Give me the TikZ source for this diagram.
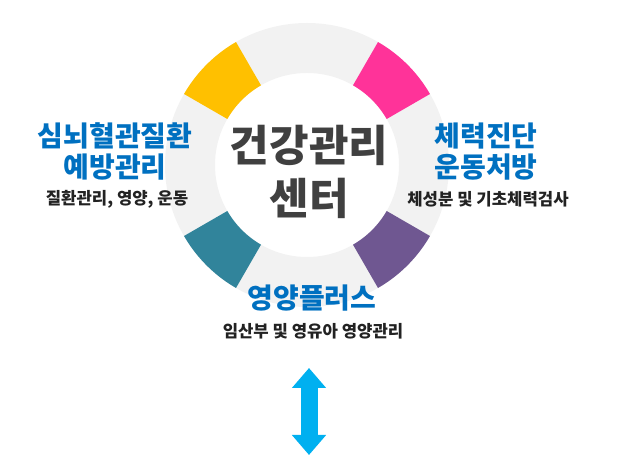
\documentclass[tikz,border=0pt]{standalone}
\usepackage{fontspec}
\setmainfont{Noto Sans CJK KR}
\usepackage{tikz}
\usetikzlibrary{arrows.meta, positioning}

\definecolor{ringgray}{HTML}{F2F2F2}
\definecolor{segyellow}{HTML}{FFC000}
\definecolor{segpink}{HTML}{FF3399}
\definecolor{segteal}{HTML}{31849B}
\definecolor{segpurple}{HTML}{6F5791}
\definecolor{titleblue}{HTML}{0070C0}
\definecolor{hubgray}{HTML}{404040}
\definecolor{subdark}{HTML}{222222}
\definecolor{arrowcyan}{HTML}{00B0F0}

\tikzset{bigtip/.tip={Triangle[width=33pt, length=20pt]}}

\begin{document}
\begin{tikzpicture}[
  x=1pt, y=1pt,
  hub/.style={font=\fontsize{43}{47}\selectfont\bfseries, text=hubgray, inner sep=0pt},
  title/.style={font=\fontsize{28}{32}\selectfont\bfseries, text=titleblue, inner sep=0pt},
  sub/.style={font=\fontsize{16.7}{20}\selectfont\bfseries, text=subdark, inner sep=0pt},
]
\useasboundingbox (0,0) rectangle (620,465);

\coordinate (c) at (307,300);
\fill[ringgray, even odd rule] (c) circle (142) (c) circle (92);
\foreach \a/\col in {30/segpink, 120/segyellow, 210/segteal, 300/segpurple} {
  \pgfmathtruncatemacro{\b}{\a + 30}
  \fill[\col] ([shift={(\a:142)}]c) arc[start angle=\a, end angle=\b, radius=142]
    -- ([shift={(\b:92)}]c) arc[start angle=\b, end angle=\a, radius=92] -- cycle;
}

\node[hub] (hub1) at (309,320) {건강관리};
\node[hub] (hub2) at (309,267) {센터};

\node[title] (heart1) at (115,329) {심뇌혈관질환};
\node[title] (heart2) at (115,298) {예방관리};
\node[sub] (heartsub) at (117,266) {질환관리, 영양, 운동};

\node[title] (fit1) at (486,329) {체력진단};
\node[title] (fit2) at (486,298) {운동처방};
\node[sub] (fitsub) at (488,266) {체성분 및 기초체력검사};

\node[title] (nutri) at (312,167) {영양플러스};
\node[sub] (nutrisub) at (313,134) {임산부 및 영유아 영양관리};

% up-down arrow below the circle
\coordinate (uptip) at (309,97);
\coordinate (downtip) at (309,10);
\draw[arrowcyan, line width=17pt, bigtip-bigtip] (uptip) -- (downtip);
\end{tikzpicture}
\end{document}
